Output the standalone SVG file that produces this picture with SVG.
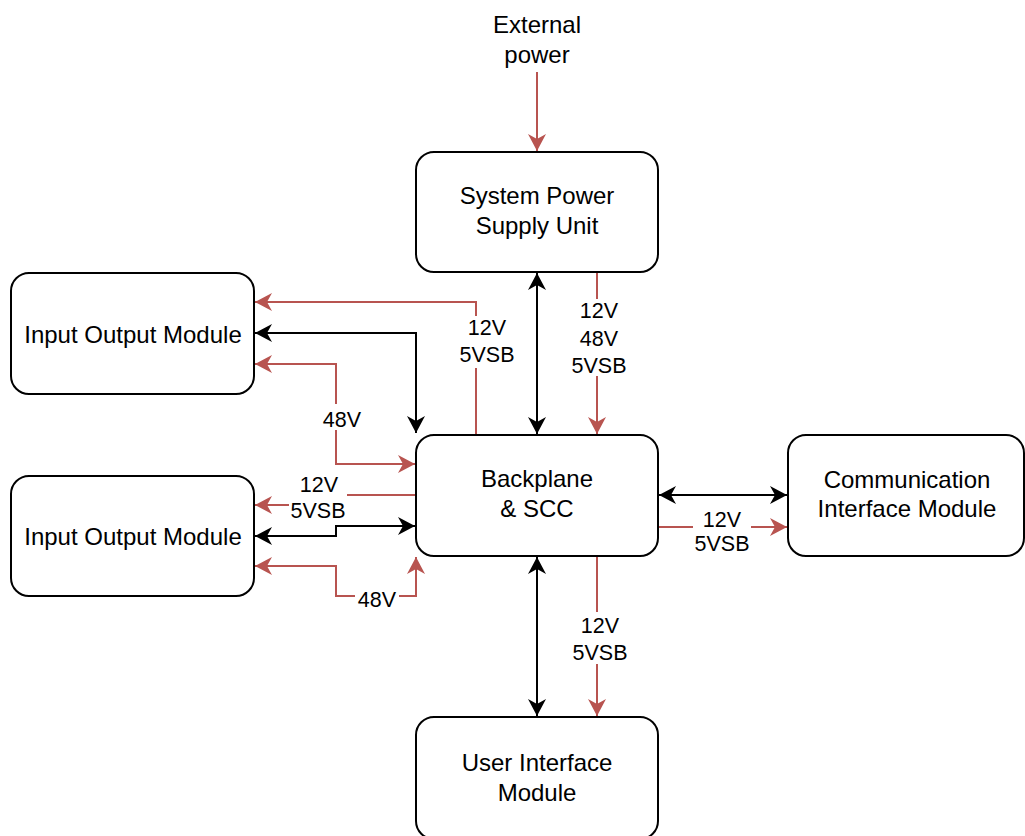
<svg xmlns="http://www.w3.org/2000/svg" width="1025" height="836" viewBox="0 0 1025 836">
<style>
.box{fill:#fff;stroke:#000;stroke-width:2}
.t{font-family:"Liberation Sans",Arial,sans-serif;font-size:24px;fill:#000;text-anchor:middle}
.l{font-family:"Liberation Sans",Arial,sans-serif;font-size:21.5px;fill:#000;text-anchor:middle}
.k{fill:none;stroke:#000;stroke-width:2}
.r{fill:none;stroke:#b85450;stroke-width:2}
.bg{fill:#fff}
</style>
<defs>
<marker id="ak" markerUnits="userSpaceOnUse" viewBox="-19 -10 20 20" refX="0" refY="0" markerWidth="20" markerHeight="20" orient="auto-start-reverse">
<path d="M0,0 L-17,-9 L-12,0 L-17,9 Z" fill="#000"/>
</marker>
<marker id="ar" markerUnits="userSpaceOnUse" viewBox="-19 -10 20 20" refX="0" refY="0" markerWidth="20" markerHeight="20" orient="auto-start-reverse">
<path d="M0,0 L-17,-9 L-12,0 L-17,9 Z" fill="#b85450"/>
</marker>
</defs>
<rect width="1025" height="836" fill="#fff"/>
<g id="connectors">
<path class="r" d="M537,72 L537,151" marker-end="url(#ar)"/>
<path class="k" d="M537,273 L537,434" marker-start="url(#ak)" marker-end="url(#ak)"/>
<path class="r" d="M597,273 L597,434" marker-end="url(#ar)"/>
<path class="r" d="M476,435 L476,302 L255,302" marker-end="url(#ar)"/>
<path class="k" d="M255,333 L416,333 L416,433" marker-start="url(#ak)" marker-end="url(#ak)"/>
<path class="r" d="M255,364 L336,364 L336,464 L415,464" marker-start="url(#ar)" marker-end="url(#ar)"/>
<path class="r" d="M416,495 L318,495 L318,505 L255,505" marker-end="url(#ar)"/>
<path class="k" d="M255,536 L336,536 L336,526 L415,526" marker-start="url(#ak)" marker-end="url(#ak)"/>
<path class="r" d="M255,566 L336,566 L336,596 L416,596 L416,557" marker-start="url(#ar)" marker-end="url(#ar)"/>
<path class="k" d="M659,495 L787,495" marker-start="url(#ak)" marker-end="url(#ak)"/>
<path class="r" d="M659,527 L787,527" marker-end="url(#ar)"/>
<path class="k" d="M537,557 L537,716" marker-start="url(#ak)" marker-end="url(#ak)"/>
<path class="r" d="M597,557 L597,716" marker-end="url(#ar)"/>
<rect class="bg" x="562" y="299" width="72" height="77"/>
<text class="l" x="599" y="318">12V</text>
<text class="l" x="599" y="346">48V</text>
<text class="l" x="599" y="373">5VSB</text>
<rect class="bg" x="459" y="316" width="56" height="52"/>
<text class="l" x="487" y="335">12V</text>
<text class="l" x="487" y="362">5VSB</text>
<rect class="bg" x="320" y="404" width="44" height="26"/>
<text class="l" x="342" y="427">48V</text>
<rect class="bg" x="289" y="476" width="58" height="46"/>
<text class="l" x="319" y="492">12V</text>
<text class="l" x="318" y="518">5VSB</text>
<rect class="bg" x="355" y="589" width="44" height="20"/>
<text class="l" x="377" y="607">48V</text>
<rect class="bg" x="693" y="508" width="58" height="46"/>
<text class="l" x="722" y="527">12V</text>
<text class="l" x="722" y="551">5VSB</text>
<rect class="bg" x="570" y="612" width="60" height="52"/>
<text class="l" x="600" y="633">12V</text>
<text class="l" x="600" y="660">5VSB</text>
</g>
<g id="external-power">
<text class="t" x="537" y="33">External</text>
<text class="t" x="537" y="63">power</text>
</g>
<g id="spsu">
<rect class="box" x="416" y="152" width="242" height="120" rx="18"/>
<text class="t" x="537" y="204">System Power</text>
<text class="t" x="537" y="234">Supply Unit</text>
</g>
<g id="backplane">
<rect class="box" x="416" y="435" width="242" height="121" rx="18"/>
<text class="t" x="537" y="487">Backplane</text>
<text class="t" x="537" y="517">&amp; SCC</text>
</g>
<g id="io-top">
<rect class="box" x="11" y="273" width="243" height="121" rx="18"/>
<text class="t" x="133" y="343">Input Output Module</text>
</g>
<g id="io-bottom">
<rect class="box" x="11" y="476" width="243" height="120" rx="18"/>
<text class="t" x="133" y="545">Input Output Module</text>
</g>
<g id="comm">
<rect class="box" x="788" y="435" width="236" height="121" rx="18"/>
<text class="t" x="907" y="488">Communication</text>
<text class="t" x="907" y="517">Interface Module</text>
</g>
<g id="ui">
<rect class="box" x="416" y="717" width="242" height="122" rx="18"/>
<text class="t" x="537" y="771">User Interface</text>
<text class="t" x="537" y="801">Module</text>
</g>
</svg>
